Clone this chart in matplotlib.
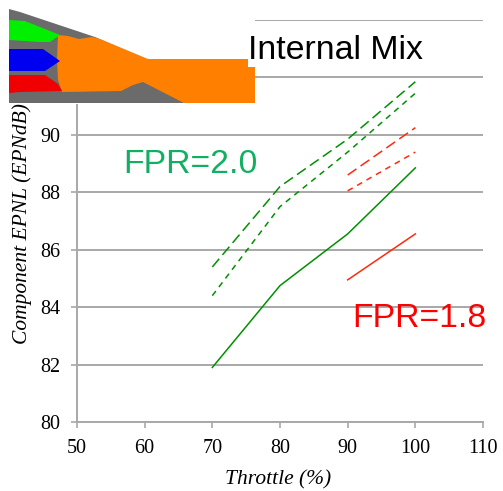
import matplotlib
matplotlib.use("Agg")
import matplotlib.pyplot as plt
from matplotlib.patches import Polygon, Rectangle

W, H = 503, 491
throttle_2 = [70, 80, 90, 100]
fpr20_solid = [81.9, 84.75, 86.55, 88.85]
fpr20_dash = [85.4, 88.2, 89.85, 91.85]
fpr20_short = [84.4, 87.5, 89.4, 91.45]
throttle_1 = [90, 100]
fpr18_solid = [84.95, 86.55]
fpr18_dash = [88.6, 90.25]
fpr18_short = [88.05, 89.4]
xticks = [50, 60, 70, 80, 90, 100, 110]
yticks = [80, 82, 84, 86, 88, 90, 92, 94]
ytick_labels = ["80", "82", "84", "86", "88", "90", "", ""]

# Schematic outlines, in picture pixels
GRAY = [(9, 9), (20, 12), (95, 37), (148, 60), (148, 70), (184, 103), (9, 103)]
ORANGE = [(58, 35), (68, 36), (79, 39), (92, 37), (100, 39), (148, 59), (248, 59), (248, 67), (255, 67),
          (255, 103), (184, 103), (143, 82), (133, 85), (121, 91), (62, 92), (58, 80), (57, 60)]
GREEN = [(9, 20), (25, 21), (40, 27), (60, 35), (50, 42), (40, 42), (9, 40)]
BLUE = [(9, 49), (43, 49), (60, 61), (45, 71), (9, 71)]
RED = [(9, 75), (45, 75), (58, 84), (62, 91), (20, 92), (9, 93)]

serif = "Liberation Serif"
sans = "Liberation Sans"
green = "#009000"
red = "#ff2a10"
grid = "#a8a8a8"

fig = plt.figure(figsize=(W / 100, H / 100), dpi=100)
ax = fig.add_axes([77 / W, 1 - 422 / H, (483 - 77) / W, (422 - 20) / H])
ax.set_xlim(50, 110)
ax.set_ylim(80, 94)
ax.set_xticks(xticks)
ax.set_yticks(yticks)
ax.set_yticklabels(ytick_labels)
ax.grid(axis="y", color=grid, lw=1.4)
ax.set_axisbelow(True)
for s in ("top", "right"):
    ax.spines[s].set_visible(False)
for s in ("left", "bottom"):
    ax.spines[s].set_color(grid)
    ax.spines[s].set_linewidth(1.4)
ax.tick_params(colors=grid, width=1.2, length=4, labelcolor="black", labelsize=14.5)
ax.tick_params(axis="x", pad=8)
ax.tick_params(axis="y", pad=8)
for t in ax.get_xticklabels() + ax.get_yticklabels():
    t.set_fontfamily(serif)

ax.plot(throttle_2, fpr20_solid, color=green, lw=1.1)
ax.plot(throttle_2, fpr20_dash, color=green, lw=1.1, dashes=(7, 3.3))
ax.plot(throttle_2, fpr20_short, color=green, lw=1.1, dashes=(3.8, 3.3))
ax.plot(throttle_1, fpr18_solid, color=red, lw=1.1)
ax.plot(throttle_1, fpr18_dash, color=red, lw=1.1, dashes=(7, 3.3))
ax.plot(throttle_1, fpr18_short, color=red, lw=1.1, dashes=(3.8, 3.3))

fig.text(278 / W, 1 - 480 / H, "Throttle (%)", ha="center", va="center", fontfamily=serif,
         style="italic", fontsize=15.5)
fig.text(22 / W, 1 - 224 / H, "Component EPNL (EPNdB)", rotation=90, ha="center", va="center",
         fontfamily=serif, style="italic", fontsize=15.5)

fig.text(123 / W, 1 - 173 / H, "FPR=2.0", fontfamily=sans, fontsize=24.3, color="#10b060")
fig.text(352 / W, 1 - 327 / H, "FPR=1.8", fontfamily=sans, fontsize=24.3, color="#ff0000")

# Schematic overlay
ov = fig.add_axes([0, 0, 1, 1], zorder=5)
ov.set_xlim(0, W)
ov.set_ylim(H, 0)
ov.axis("off")
ov.patch.set_alpha(0)
ov.add_patch(Rectangle((0, 0), 255, 104, fc="white", ec="none"))
ov.add_patch(Polygon(GRAY, fc="#6b6b6b", ec="none"))
ov.add_patch(Polygon(ORANGE, fc="#ff8000", ec="none"))
ov.add_patch(Polygon(GREEN, fc="#00f000", ec="none"))
ov.add_patch(Polygon(BLUE, fc="#0000f0", ec="none"))
ov.add_patch(Polygon(RED, fc="#f00000", ec="none"))
ov.text(248, 59, "Internal Mix", fontfamily=sans, fontsize=24.4, color="black", va="baseline")

fig.savefig("out.png", dpi=100)
